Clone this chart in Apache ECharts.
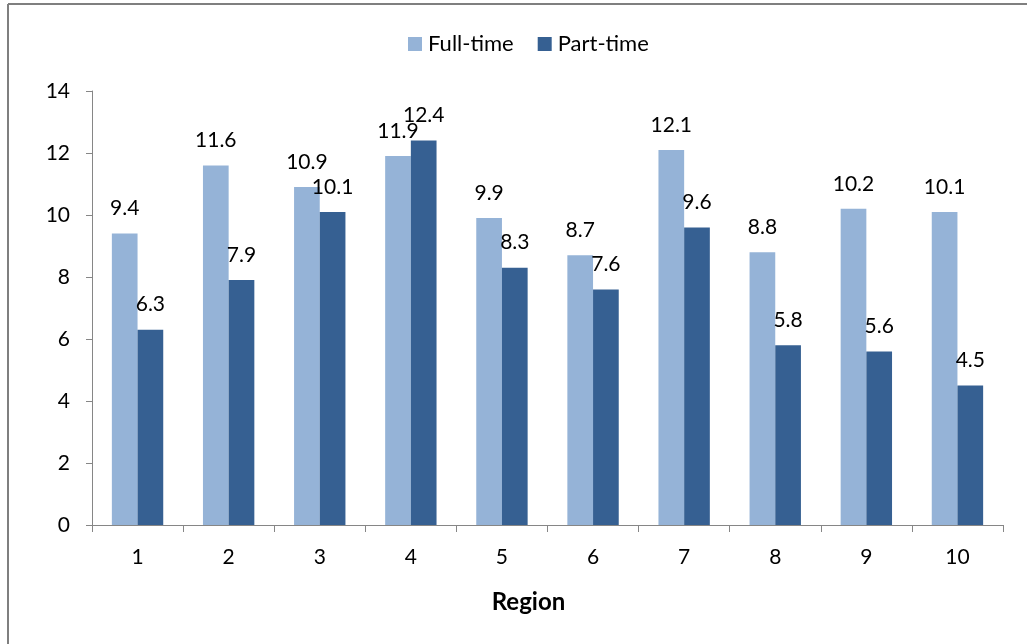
<!DOCTYPE html>
<html>
<head>
<meta charset="utf-8">
<script src="https://cdn.jsdelivr.net/npm/echarts@6/dist/echarts.min.js"></script>
<style>
html,body{margin:0;padding:0;background:#fff;}
#c{width:1027px;height:644px;}
</style>
</head>
<body>
<div id="c"></div>
<script>
const categories = ['1','2','3','4','5','6','7','8','9','10'];
const fullTime = [9.4, 11.6, 10.9, 11.9, 9.9, 8.7, 12.1, 8.8, 10.2, 10.1];
const partTime = [6.3, 7.9, 10.1, 12.4, 8.3, 7.6, 9.6, 5.8, 5.6, 4.5];
const yTicks = [0, 2, 4, 6, 8, 10, 12, 14];

const FONT = 'Lato';
const chart = echarts.init(document.getElementById('c'), null, {renderer: 'canvas'});
const labelStyle = {
  show: true, position: 'top', distance: 15,
  color: '#000', fontFamily: FONT, fontSize: 21, lineHeight: 20,
  formatter: p => p.value.toFixed(1)
};
chart.setOption({
  animation: false,
  backgroundColor: '#fff',
  textStyle: {fontFamily: FONT},
  graphic: [
    {type: 'line', shape: {x1: 8, y1: 4, x2: 1027, y2: 4}, style: {stroke: '#7f7f7f', lineWidth: 2}},
    {type: 'line', shape: {x1: 8, y1: 4, x2: 8, y2: 644}, style: {stroke: '#7f7f7f', lineWidth: 2}}
  ],
  legend: {
    top: 28, left: 403,
    itemWidth: 14, itemHeight: 14, itemGap: 24,
    icon: 'rect',
    textStyle: {fontFamily: FONT, fontSize: 22, color: '#000', padding: [0, 0, 0, 1]},
    data: ['Full-time', 'Part-time']
  },
  grid: {left: 92, right: 24, top: 91, bottom: 119, containLabel: false},
  xAxis: {
    type: 'category', data: categories,
    name: 'Region', nameLocation: 'middle', nameGap: 65,
    nameTextStyle: {fontFamily: FONT, fontSize: 24, fontWeight: 'bold', color: '#000', padding: [0, 38, 0, 0]},
    axisLine: {lineStyle: {color: '#868686', width: 1}},
    axisTick: {show: true, length: 7, lineStyle: {color: '#868686'}},
    axisLabel: {color: '#000', fontFamily: FONT, fontSize: 21, margin: 22}
  },
  yAxis: {
    type: 'value', min: yTicks[0], max: yTicks[yTicks.length - 1], interval: 2,
    splitLine: {show: false},
    axisLine: {show: true, lineStyle: {color: '#868686', width: 1}},
    axisTick: {show: true, length: 6, lineStyle: {color: '#868686'}},
    axisLabel: {color: '#000', fontFamily: FONT, fontSize: 21, margin: 22}
  },
  series: [
    {name: 'Full-time', type: 'bar', data: fullTime, barGap: '0%', barCategoryGap: '43.6%',
     itemStyle: {color: '#95B3D7'}, label: labelStyle},
    {name: 'Part-time', type: 'bar', data: partTime, barGap: '0%', barCategoryGap: '43.6%',
     itemStyle: {color: '#366092'}, label: labelStyle}
  ]
});
</script>
</body>
</html>
